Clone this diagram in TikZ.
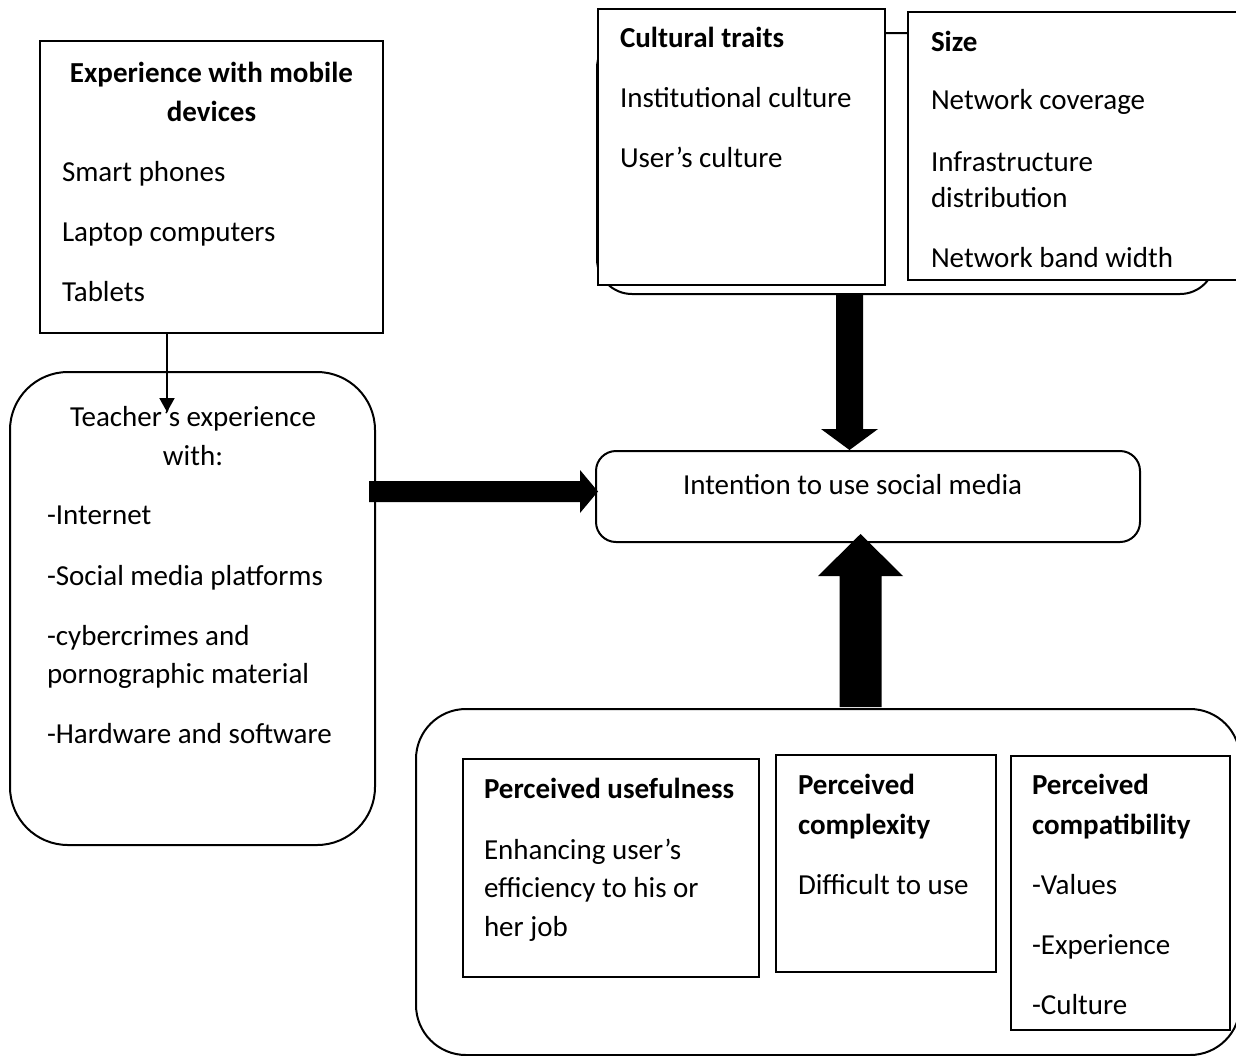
\documentclass[tikz,border=0pt]{standalone}
\usepackage{fontspec}
\setmainfont{Carlito}
\usetikzlibrary{arrows.meta,calc}
\begin{document}
\begin{tikzpicture}[x=1pt,y=-1pt,
  every node/.style={inner sep=0pt, outer sep=0pt, font=\fontsize{29}{35}\selectfont},
  box/.style={draw, line width=2pt, fill=white, anchor=north west, rectangle},
  roundbox/.style={box, rounded corners=#1},
  txt/.style={anchor=base west},
  ctxt/.style={anchor=base},
  head/.style={font=\fontsize{29}{35}\selectfont\bfseries},
  blockarrow/.style={fill=black},
  thinarrow/.style={draw, line width=2pt, -{Triangle[width=15pt,length=14pt]}},
]
\useasboundingbox (0,0) rectangle (1236,1055);
\clip (0,0) rectangle (1236,1055);

% ---------- environment factors (top group) ----------
\node[roundbox=35pt, minimum width=618pt, minimum height=261pt] (group) at (597,33) {};
\node[box, minimum width=287pt, minimum height=276pt] (cult) at (598,9) {};
\node[box, minimum width=337pt, minimum height=268pt] (size) at (908,12) {};

\node[txt, head] (c1) at (620,47.5) {Cultural traits};
\node[txt] (c2) at (620,107.5) {Institutional culture};
\node[txt] (c3) at (620,167.5) {User’s culture};

\node[txt, head] (s1) at (931,51.5) {Size};
\node[txt] (s2) at (931,109.5) {Network coverage};
\node[txt] (s3) at (931,171.5) {Infrastructure};
\node[txt] (s4) at (931,207.5) {distribution};
\node[txt] (s5) at (931,267.5) {Network band width};

% ---------- mobile devices ----------
\node[box, minimum width=343pt, minimum height=292pt] (mobile) at (40,41) {};
\node[ctxt, head] (m1) at (211.5,82.5) {Experience with mobile};
\node[ctxt, head] (m2) at (211.5,121) {devices};
\node[txt] (m3) at (62,181.4) {Smart phones};
\node[txt] (m4) at (62,241) {Laptop computers};
\node[txt] (m5) at (62,301.4) {Tablets};

% ---------- teacher's experience ----------
\node[roundbox=58pt, minimum width=365pt, minimum height=473pt] (teacher) at (10,372) {};
\node[ctxt] (e1) at (193,426.5) {Teacher’s experience};
\node[ctxt] (e2) at (193,465.5) {with:};
\node[txt] (e3) at (47,524.5) {-Internet};
\node[txt] (e4) at (47,585.5) {-Social media platforms};
\node[txt] (e5) at (47,645.5) {-cybercrimes and};
\node[txt] (e6) at (47,683.5) {pornographic material};
\node[txt] (e7) at (47,743.5) {-Hardware and software};

\coordinate (mt) at (167,412);
\draw[thinarrow] (mobile.south -| mt) -- (mt);

% ---------- intention ----------
\node[roundbox=20pt, minimum width=544pt, minimum height=91pt] (intent) at (596,451) {};
\node[txt] (i1) at (683,494.5) {Intention to use social media};

% ---------- perceived attributes ----------
\node[roundbox=50pt, minimum width=824pt, minimum height=346pt] (factors) at (416,709) {};
\node[box, minimum width=296pt, minimum height=218pt] (useful) at (463,759) {};
\node[box, minimum width=220pt, minimum height=217pt] (complex) at (776,755) {};
\node[box, minimum width=219pt, minimum height=274pt] (compat) at (1011,756) {};

\node[txt, head] (u1) at (484,798.5) {Perceived usefulness};
\node[txt] (u2) at (484,859.5) {Enhancing user’s};
\node[txt] (u3) at (484,897.5) {efficiency to his or};
\node[txt] (u4) at (484,936.5) {her job};

\node[txt, head] (x1) at (798,794.5) {Perceived};
\node[txt, head] (x2) at (798,834.5) {complexity};
\node[txt] (x3) at (798,894.5) {Difficult to use};

\node[txt, head] (p1) at (1032,794.5) {Perceived};
\node[txt, head] (p2) at (1032,834.5) {compatibility};
\node[txt] (p3) at (1032,894.5) {-Values};
\node[txt] (p4) at (1032,954.5) {-Experience};
\node[txt] (p5) at (1032,1014.5) {-Culture};

% ---------- block arrows ----------
% teacher -> intention
\coordinate (hs) at (369,491.5);
\coordinate (ht) at (intent.west |- hs);
\fill[blockarrow] ($(hs)+(0,-10.5)$) -- ($(ht)+(-16,-10.5)$) -- ($(ht)+(-16,-21.5)$)
  -- ($(ht)+(2,0)$) -- ($(ht)+(-16,21.5)$) -- ($(ht)+(-16,10.5)$) -- ($(hs)+(0,10.5)$) -- cycle;

% environment -> intention
\coordinate (dt) at (849.5,450);
\coordinate (ds) at (group.south -| dt);
\fill[blockarrow] ($(ds)+(-13.5,1)$) -- ($(dt)+(-13.5,-21)$) -- ($(dt)+(-28.5,-21)$)
  -- (dt) -- ($(dt)+(28.5,-21)$) -- ($(dt)+(13.5,-21)$) -- ($(ds)+(13.5,1)$) -- cycle;

% perceived attributes -> intention
\coordinate (ut) at (860.5,534);
\coordinate (us) at (factors.north -| ut);
\fill[blockarrow] ($(us)+(-21,-2)$) -- ($(ut)+(-21,42)$) -- ($(ut)+(-42.5,42)$)
  -- (ut) -- ($(ut)+(42.5,42)$) -- ($(ut)+(21,42)$) -- ($(us)+(21,-2)$) -- cycle;
\end{tikzpicture}
\end{document}
